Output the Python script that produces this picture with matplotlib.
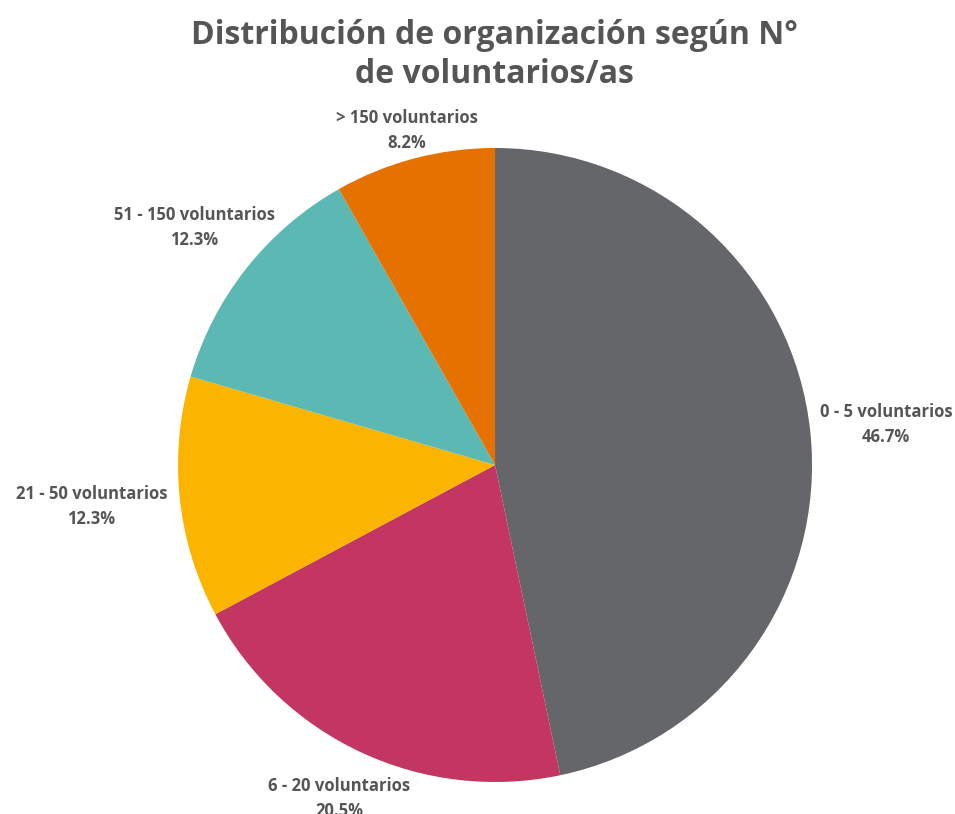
import matplotlib
matplotlib.use('Agg')

import matplotlib.pyplot as plt
import numpy as np

# ==========================================
# DATA
# ==========================================
categorias = ["0 - 5 voluntarios", "6 - 20 voluntarios", "21 - 50 voluntarios",
              "51 - 150 voluntarios", "> 150 voluntarios"]
porcentajes = [46.7, 20.5, 12.3, 12.3, 8.2]
colores = ["#65666A", "#C33661", "#FBB500", "#5CB8B2", "#E57200"]

# distancia de cada etiqueta al centro (en radios)
dist_etiqueta = [1.24, 1.16, 1.28, 1.21, 1.09]

texto_color = "#555555"
plt.rcParams['font.family'] = ['Open Sans', 'DejaVu Sans']

# ==========================================
# FIGURA
# ==========================================
fig = plt.figure(figsize=(9.55, 8.14), dpi=100)
ax = fig.add_axes([0.1864, 0.0393, 0.6639, 0.7789])

wedges, _ = ax.pie(porcentajes, colors=colores, startangle=90, counterclock=False,
                   radius=1.0, wedgeprops=dict(linewidth=0))
ax.set_xlim(-1, 1)
ax.set_ylim(-1, 1)
ax.set_aspect('equal')
ax.axis('off')

for w, cat, pct, d in zip(wedges, categorias, porcentajes, dist_etiqueta):
    ang = np.deg2rad((w.theta1 + w.theta2) / 2)
    x, y = d * np.cos(ang), d * np.sin(ang)
    ax.text(x, y, f"{cat}\n{pct:.1f}%", ha="center", va="center",
            fontsize=12, fontweight="bold", color=texto_color,
            linespacing=1.5, clip_on=False)

fig.text(0.518, 0.9325, "Distribución de organización según N°\nde voluntarios/as",
         ha="center", va="center", fontsize=23, fontweight="bold",
         color=texto_color, linespacing=1.22)

plt.savefig("out.png", dpi=100)
plt.close()
